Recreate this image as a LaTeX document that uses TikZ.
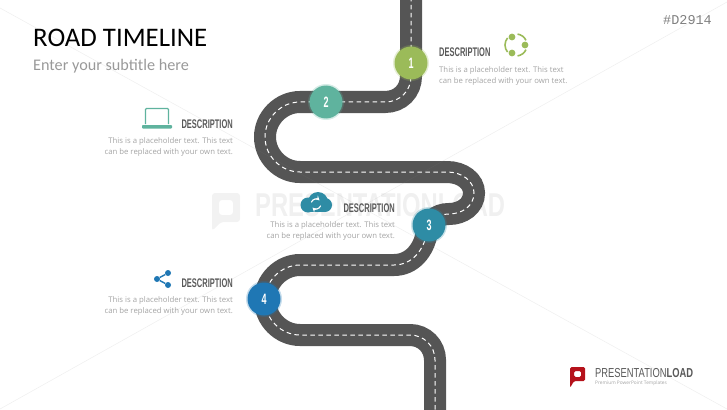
\documentclass[tikz,border=0pt]{standalone}
\usepackage{fontspec}
\setmainfont{Carlito}
\newfontfamily\bodyfont{Open Sans}
\newfontfamily\codefont{Liberation Mono}
\newfontfamily\headfont[FakeStretch=0.6]{Liberation Sans}
\newfontfamily\markfont[FakeStretch=0.72]{Liberation Sans}

\definecolor{roadgray}{HTML}{555555}
\definecolor{headgray}{HTML}{595959}
\definecolor{textgray}{HTML}{A3A3A3}
\definecolor{stepa}{HTML}{9BBB59}
\definecolor{stepb}{HTML}{5FB39E}
\definecolor{stepc}{HTML}{2E8CA5}
\definecolor{stepd}{HTML}{1F77B4}
\definecolor{logored}{HTML}{B5121B}

\tikzset{
  road/.style={draw=roadgray, line width=22pt, postaction={draw=white, line width=1pt, dash pattern=on 4.5pt off 3.5pt}},
  stop/.style={circle, fill=#1, draw=#1, draw opacity=.25, line width=3pt, minimum size=33pt, inner sep=0pt, text=white, font=\headfont\bfseries\fontsize{15}{15}\selectfont},
  head/.style={text=headgray, inner sep=0pt, font=\headfont\bfseries\fontsize{12.5}{12.5}\selectfont},
  body/.style={text=textgray, inner sep=0pt, font=\bodyfont\fontsize{7.75}{11}\selectfont},
  dot/.style={circle, fill=#1, inner sep=0pt, minimum size=6pt},
  faint/.style={draw=gray, draw opacity=.12, line width=.6pt}
}

\begin{document}
\begin{tikzpicture}[x=1pt,y=-1pt]
\useasboundingbox (0,0) rectangle (727,409);

%% watermark text
\node[anchor=west, inner sep=0pt, text=gray, text opacity=.12, font=\markfont\bfseries\fontsize{33}{33}\selectfont] (wmark) at (255,205) {PRESENTATIONLOAD};
\fill[gray, fill opacity=.1, even odd rule, rounded corners=3pt] (212,193) -- (240,193) -- (240,222) -- (221,222) -- (212,231) -- cycle (219,200) -- (219,215) -- (233,215) -- (233,200) -- cycle;

%% road
\draw[road] (411,-3) -- (411,76) .. controls (411,91) and (400,102) .. (385,102)
  -- (300,102) .. controls (281,102) and (265,118) .. (265,137)
  .. controls (265,156) and (281,172) .. (300,172)
  -- (447,172) .. controls (462,172) and (474,181) .. (474,193)
  .. controls (474,206) and (462,214) .. (449,214)
  .. controls (436,214) and (429,222) .. (427,232)
  .. controls (424,250) and (412,265) .. (394,265)
  -- (300,265) .. controls (281,265) and (265,281) .. (265,300)
  .. controls (265,319) and (281,335) .. (300,335)
  -- (410,335) .. controls (424,335) and (435,346) .. (435,360) -- (435,412);

%% stops
\node[stop=stepa] (s1) at (411,63) {1};
\node[stop=stepb] (s2) at (326,102) {2};
\node[stop=stepc] (s3) at (429,225) {3};
\node[stop=stepd] (s4) at (264,299) {4};

%% title
\node[anchor=west, inner sep=0pt, font=\fontsize{26.8}{26.8}\selectfont] (title) at (33,38) {ROAD TIMELINE};
\node[anchor=west, inner sep=0pt, text=gray!80, font=\fontsize{16.2}{16.2}\selectfont] (subtitle) at (33,66) {Enter your subtitle here};
\node[anchor=east, inner sep=0pt, text=gray, font=\codefont\fontsize{13.5}{13.5}\selectfont] (code) at (712,20) {\#D2914};

%% descriptions
\node[head, anchor=west] (h1) at (439,52) {DESCRIPTION};
\node[body, anchor=west, align=left] (b1) at (439,76) {This is a placeholder text. This text\\can be replaced with your own text.};
\node[head, anchor=east] (h2) at (233,124) {DESCRIPTION};
\node[body, anchor=east, align=right] (b2) at (233,147) {This is a placeholder text. This text\\can be replaced with your own text.};
\node[head, anchor=east] (h3) at (395,208) {DESCRIPTION};
\node[body, anchor=east, align=right] (b3) at (395,231) {This is a placeholder text. This text\\can be replaced with your own text.};
\node[head, anchor=east] (h4) at (233,283) {DESCRIPTION};
\node[body, anchor=east, align=right] (b4) at (233,306) {This is a placeholder text. This text\\can be replaced with your own text.};

%% icon 1, circle of dots
\fill[stepa] (512,37) circle (3.4pt);   %% top
\fill[stepa] (525,45) circle (3.4pt);   %% right
\fill[stepa] (512,53) circle (3.4pt);   %% bottom
\draw[stepa, line width=1.6pt] (516,45) ++(82:11pt) arc[start angle=82, end angle=25, radius=11pt];
\draw[stepa, line width=1.6pt] (516,45) ++(-25:11pt) arc[start angle=-25, end angle=-82, radius=11pt];
\draw[stepa, line width=1.6pt] (516,45) ++(140:11pt) arc[start angle=140, end angle=220, radius=11pt];

%% icon 2, laptop
\draw[stepb, line width=1.2pt, rounded corners=1pt] (145.5,124) -- (145.5,108.5) -- (168.5,108.5) -- (168.5,124);
\fill[stepb, rounded corners=.8pt] (142,125) rectangle (172,128.5);

%% icon 3, cloud
\fill[stepc] (308,205) circle (7.5pt);
\fill[stepc] (318,202) circle (10pt);
\fill[stepc] (325,205) circle (7pt);
\fill[stepc] (308,205) rectangle (325,212);
\draw[white, line width=1.1pt, -stealth] (316,204) ++(160:5pt) arc[start angle=160, end angle=45, radius=5pt];
\draw[white, line width=1.1pt, -stealth] (316,204) ++(-20:5pt) arc[start angle=-20, end angle=-135, radius=5pt];

%% icon 4, share
\node[dot=stepd] (n1) at (168,273) {};
\node[dot=stepd] (n2) at (157,279) {};
\node[dot=stepd] (n3) at (168,285) {};
\draw[stepd, line width=1.4pt] (n1) -- (n2) -- (n3);

%% logo
\fill[logored, even odd rule, rounded corners=1.5pt] (570,367) -- (585,367) -- (585,381) -- (574,381) -- (570,388) -- cycle (574,371) -- (574,377) -- (581,377) -- (581,371) -- cycle;
\node[anchor=west, inner sep=0pt, text=headgray, font=\markfont\fontsize{13}{13}\selectfont] (logotext) at (595,373) {PRESENTATION\textbf{LOAD}};
\node[anchor=west, inner sep=0pt, text=textgray, font=\bodyfont\fontsize{4.8}{4.8}\selectfont] (logosub) at (595,383.5) {Premium PowerPoint Templates};

%% faint lines
\draw[faint] (0,8) -- (727,409);
\draw[faint] (0,409) -- (727,2);
            \end{tikzpicture}
\end{document}
